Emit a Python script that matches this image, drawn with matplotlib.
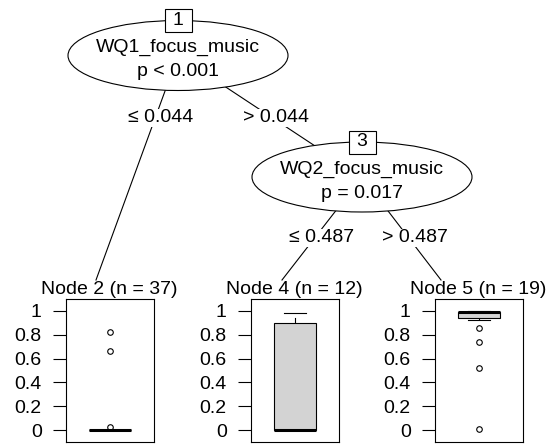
import matplotlib
matplotlib.use('Agg')
import matplotlib.pyplot as plt
from matplotlib.patches import Ellipse, Rectangle

plt.rcParams['font.family'] = ['Liberation Sans', 'DejaVu Sans']

# inner nodes
inner_ids = [1, 3]
inner_vars = ['WQ1_focus_music', 'WQ2_focus_music']
inner_pvals = ['p < 0.001', 'p = 0.017']
split_labels = ['\u2264 0.044', '> 0.044', '\u2264 0.487', '> 0.487']

# terminal nodes
term_ids = [2, 4, 5]
term_n = [37, 12, 19]
box_q1 = [0.0, 0.0, 0.94]
box_med = [0.0, 0.0, 0.99]
box_q3 = [0.0, 0.895, 0.99]
box_whislo = [0.0, 0.0, 0.92]
box_whishi = [0.0, 0.98, 1.0]
box_fliers = [[0.826, 0.666, 0.025], [], [0.855, 0.74, 0.52, 0.005]]
yticks = [0, 0.2, 0.4, 0.6, 0.8, 1]
ytick_labels = ['0', '0.2', '0.4', '0.6', '0.8', '1']

W, H = 548, 445
fig = plt.figure(figsize=(W / 100, H / 100), dpi=100)
ax0 = fig.add_axes([0, 0, 1, 1])
ax0.set_xlim(0, W)
ax0.set_ylim(H, 0)
ax0.axis('off')

FS = 14
inner_xy = [(178, 55.5), (362, 177)]
term_top = [(96, 280), (282, 280), (441, 280)]
label_xy = [(161, 118), (276, 118), (322, 238), (415, 238)]

# edges
edges = [(inner_xy[0], term_top[0]), (inner_xy[0], inner_xy[1]),
         (inner_xy[1], term_top[1]), (inner_xy[1], term_top[2])]
for (a, b) in edges:
    ax0.plot([a[0], b[0]], [a[1], b[1]], color='black', lw=0.8, zorder=1)
for (x, y), lab in zip(label_xy, split_labels):
    ax0.text(x, y, lab, fontsize=FS, ha='center', va='center', zorder=3,
             bbox=dict(fc='white', ec='none', pad=0.5))

# inner nodes
for (x, y), nid, var, p in zip(inner_xy, inner_ids, inner_vars, inner_pvals):
    ax0.add_patch(Ellipse((x, y), 220, 70, fc='white', ec='black', lw=0.8, zorder=2))
    ax0.text(x, y - 8, var, fontsize=FS, ha='center', va='center', zorder=3)
    ax0.text(x, y + 16, p, fontsize=FS, ha='center', va='center', zorder=3)
    ax0.add_patch(Rectangle((x - 13.5, y - 35 - 11.5), 27, 23, fc='white',
                            ec='black', lw=0.8, zorder=4))
    ax0.text(x, y - 35, str(nid), fontsize=FS, ha='center', va='center', zorder=5)

# terminal panels
panel_left = [66, 251, 435]
pw, ph, pbottom = 88, 143, 442
for i in range(3):
    l = panel_left[i]
    ax0.text(l + pw / 2 - 1, 290, 'Node %d (n = %d)' % (term_ids[i], term_n[i]),
             fontsize=FS, ha='center', va='center')
    ax = fig.add_axes([l / W, (H - pbottom) / H, pw / W, ph / H])
    stats = [dict(q1=box_q1[i], med=box_med[i], q3=box_q3[i],
                  whislo=box_whislo[i], whishi=box_whishi[i], fliers=box_fliers[i])]
    ax.bxp(stats, positions=[0], widths=0.48, capwidths=0.26, patch_artist=True,
           boxprops=dict(facecolor='lightgray', edgecolor='black', lw=0.8),
           medianprops=dict(color='black', lw=2.2),
           whiskerprops=dict(color='black', lw=0.8, linestyle=(0, (5, 5))),
           capprops=dict(color='black', lw=0.8),
           flierprops=dict(marker='o', markersize=4, mfc='white', mec='black', mew=0.8))
    ax.set_xlim(-0.5, 0.5)
    ax.set_ylim(-0.1, 1.1)
    ax.set_xticks([])
    ax.set_yticks(yticks)
    ax.set_yticklabels(ytick_labels, fontsize=FS)
    ax.tick_params(axis='y', length=9.4, width=0.8, pad=8)
    for s in ax.spines.values():
        s.set_linewidth(0.8)

fig.savefig('out.png', dpi=100)
